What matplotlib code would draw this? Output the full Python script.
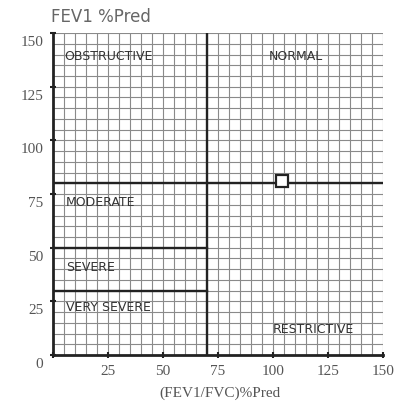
import matplotlib
matplotlib.use("Agg")
import matplotlib.pyplot as plt
from matplotlib.transforms import ScaledTranslation

# axes ranges and ticks
ticks = [0, 25, 50, 75, 100, 125, 150]
x_ticklabels = ["", "25", "50", "75", "100", "125", "150"]
y_ticklabels = ["0", "25", "50", "75", "100", "125", "150"]

# classification boundaries
ratio_cut = 70            # vertical line (FEV1/FVC %pred)
fev1_cuts = [80, 50, 30]  # horizontal lines (FEV1 %pred)

# region labels: text, x, y (data units)
region_text = ["OBSTRUCTIVE", "NORMAL", "MODERATE", "SEVERE", "VERY SEVERE", "RESTRICTIVE"]
region_x = [5, 98, 6, 6, 6, 100]
region_y = [139, 139, 71, 41, 22, 12]

# patient point
pt_x = [104]
pt_y = [81]

fig = plt.figure(figsize=(4.04, 4.03), dpi=100)
ax = fig.add_axes([0.131, 0.119, 0.817, 0.799])

ax.set_xlim(0, 150)
ax.set_ylim(0, 150)

# fine grid every 5 units
for v in range(5, 151, 5):
    ax.axvline(v, color="#8a8a8a", lw=0.8, zorder=1)
    ax.axhline(v, color="#8a8a8a", lw=0.8, zorder=1)

# boundary lines
ax.plot([ratio_cut, ratio_cut], [0, 150], color="#222222", lw=1.7, zorder=3)
ax.plot([0, 150], [fev1_cuts[0], fev1_cuts[0]], color="#222222", lw=1.7, zorder=3)
for c in fev1_cuts[1:]:
    ax.plot([0, ratio_cut], [c, c], color="#222222", lw=1.7, zorder=3)

ax.plot(pt_x, pt_y, marker="s", ms=9, mfc="white", mec="#222222", mew=1.6,
        ls="none", zorder=4)

for t, x, y in zip(region_text, region_x, region_y):
    ax.text(x, y, t, fontsize=9, family="DejaVu Sans", color="#333333",
            va="center", ha="left", zorder=5)

for s in ["top", "right"]:
    ax.spines[s].set_visible(False)
for s in ["left", "bottom"]:
    ax.spines[s].set_linewidth(2)
    ax.spines[s].set_color("#222222")

ax.set_xticks(ticks)
ax.set_yticks(ticks)
ax.set_xticklabels(x_ticklabels, family="Liberation Serif", fontsize=11, color="#555555")
ax.set_yticklabels(y_ticklabels, family="Liberation Serif", fontsize=11, color="#555555")
ax.tick_params(direction="inout", length=4, width=1.5, color="#222222", pad=5)

# y labels in the scan sit a bit under their ticks
off = ScaledTranslation(0, -8 / 100, fig.dpi_scale_trans)
for lab in ax.get_yticklabels():
    lab.set_transform(lab.get_transform() + off)

fig.text(51 / 404, 1 - 17 / 403, "FEV1 %Pred", fontsize=12, family="DejaVu Sans",
         color="#666666", ha="left", va="center")
fig.text(220 / 404, 1 - 393 / 403, "(FEV1/FVC)%Pred", fontsize=11,
         family="Liberation Serif", color="#555555", ha="center", va="center")

fig.savefig("out.png", dpi=100)
